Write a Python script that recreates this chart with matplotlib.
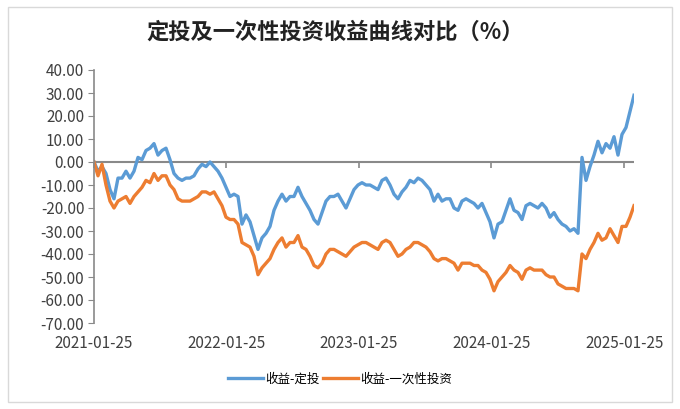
import matplotlib
matplotlib.use("Agg")
import matplotlib.pyplot as plt
import matplotlib.dates as mdates
from matplotlib.patches import Rectangle
import pandas as pd

plt.rcParams['font.family'] = ['Noto Sans CJK SC', 'DejaVu Sans']
plt.rcParams['axes.unicode_minus'] = False

# readings taken roughly every two weeks from the original chart
start_date = "2021-01-25"
end_date = "2025-02-21"

dingtou = [
    0, -4, -2, -5, -12, -16, -7, -7, -4, -7, -4, 2, 1, 5, 6, 8, 3, 5, 6, 1,
    -5, -7, -8, -7, -7, -6, -3, -1, -2, 0, -2, -4, -7, -11, -15, -14, -15, -27, -23, -26,
    -32, -38, -33, -31, -28, -21, -17, -14, -17, -15, -15, -11, -15, -18, -21, -25, -27, -22, -17, -15,
    -15, -14, -17, -20, -16, -12, -10, -9, -10, -10, -11, -12, -8, -7, -10, -14, -16, -13, -11, -8,
    -9, -7, -8, -10, -12, -17, -14, -17, -16, -16, -20, -21, -17, -16, -17, -18, -20, -18, -22, -26,
    -33, -27, -26, -21, -16, -21, -22, -25, -19, -18, -19, -20, -18, -20, -24, -22, -25, -27, -28, -30,
    -29, -31, 2, -8, -2, 3, 9, 4, 8, 6, 11, 3, 12, 15, 22, 29,
]

yicixing = [
    0, -6, -1, -10, -17, -20, -17, -16, -15, -18, -15, -13, -11, -8, -9, -5, -8, -6, -6, -10,
    -12, -16, -17, -17, -17, -16, -15, -13, -13, -14, -13, -16, -19, -24, -25, -25, -27, -35, -36, -37,
    -41, -49, -46, -44, -42, -38, -35, -33, -37, -35, -35, -32, -37, -38, -41, -45, -46, -44, -40, -38,
    -38, -39, -40, -41, -39, -37, -36, -35, -35, -36, -37, -38, -35, -34, -35, -38, -41, -40, -38, -37,
    -35, -35, -36, -37, -39, -42, -43, -42, -42, -43, -44, -47, -44, -44, -44, -45, -45, -47, -48, -51,
    -56, -52, -50, -48, -45, -47, -48, -51, -47, -46, -47, -47, -47, -49, -50, -50, -53, -54, -55, -55,
    -55, -56, -40, -42, -38, -35, -31, -34, -33, -29, -32, -35, -28, -28, -24, -19,
]

tick_dates = ["2021-01-25", "2022-01-25", "2023-01-25", "2024-01-25", "2025-01-25"]

dates = pd.date_range(start_date, end_date, periods=len(dingtou))

fig = plt.figure(figsize=(6.8, 4.09), dpi=100)
ax = fig.add_axes([94/680, 1-323/409, 540/680, 253/409])

# horizontal axis crosses at zero
ax.axhline(0, color="#898989", linewidth=1.5, zorder=1.5)

ax.plot(dates, dingtou, color="#5B9BD5", linewidth=2.4, label="收益-定投", solid_joinstyle="round", zorder=2)
ax.plot(dates, yicixing, color="#ED7D31", linewidth=2.4, label="收益-一次性投资", solid_joinstyle="round", zorder=2)

ax.set_ylim(-70, 40)
ax.set_yticks(range(-70, 41, 10))
ax.yaxis.set_major_formatter(matplotlib.ticker.FormatStrFormatter('%.2f'))
ax.set_xlim(pd.Timestamp(start_date), pd.Timestamp(end_date))
ticks = pd.to_datetime(tick_dates)
ax.set_xticks(ticks)
ax.xaxis.set_major_formatter(mdates.DateFormatter('%Y-%m-%d'))

for s in ["top", "right", "bottom"]:
    ax.spines[s].set_visible(False)
ax.spines["left"].set_color("#898989")
ax.spines["left"].set_linewidth(1.2)
ax.tick_params(axis="y", direction="out", length=4, color="#898989", labelsize=11, labelcolor="#404040", pad=3)
ax.tick_params(axis="x", length=0, labelsize=11, labelcolor="#404040", pad=9)

# tick marks hanging from the zero line
zero_ax = ax.secondary_xaxis(70/110)
zero_ax.set_xticks(ticks, labels=[""] * len(ticks))
zero_ax.xaxis.set_ticks_position("bottom")
zero_ax.tick_params(axis="x", direction="out", length=4, width=1.2, color="#898989")
for s in zero_ax.spines.values():
    s.set_visible(False)

fig.text(335/680, 1-32/409, "定投及一次性投资收益曲线对比（%）", ha="center", va="center",
         fontsize=16, color="#222222", fontweight="bold")

fig.legend(loc="center", bbox_to_anchor=(0.5, 1-379/409), ncol=2, frameon=False,
           fontsize=9, handlelength=2.8, columnspacing=0.2, handletextpad=0.2)

fig.patches.append(Rectangle((8/680, 1-402/409), 664/680, 395/409, transform=fig.transFigure,
                             fill=False, edgecolor="#D9D9D9", linewidth=1))

fig.savefig("out.png", dpi=100)
